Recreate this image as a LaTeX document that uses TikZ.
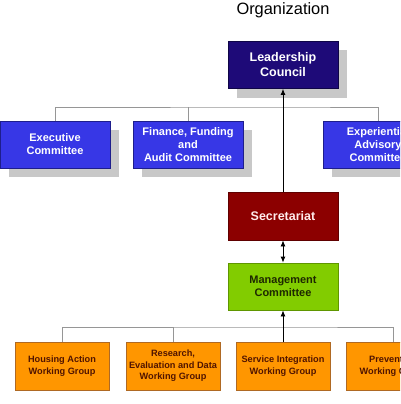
\documentclass[tikz,border=0pt]{standalone}
\usepackage{fontspec}
\setmainfont{Liberation Sans}
\usetikzlibrary{arrows.meta, positioning, shadows}
\definecolor{navyfill}{RGB}{30,10,120}
\definecolor{navyedge}{RGB}{15,5,70}
\definecolor{bluefill}{RGB}{55,55,230}
\definecolor{blueedge}{RGB}{30,30,140}
\definecolor{redfill}{RGB}{140,0,0}
\definecolor{rededge}{RGB}{95,0,0}
\definecolor{greenfill}{RGB}{130,204,0}
\definecolor{greenedge}{RGB}{95,150,0}
\definecolor{greentext}{RGB}{30,40,0}
\definecolor{orangefill}{RGB}{255,150,0}
\definecolor{orangeedge}{RGB}{175,105,35}
\definecolor{orangetext}{RGB}{80,20,0}
\definecolor{shadowgray}{RGB}{200,200,200}
\definecolor{treegray}{RGB}{150,150,150}
\tikzset{
  box/.style={rectangle, align=center, inner sep=1pt, line width=0.8pt,
    minimum width=110pt, minimum height=47pt},
  shadowed/.style={drop shadow={shadow xshift=9pt, shadow yshift=-9pt,
    fill=shadowgray, opacity=1}},
  councilblock/.style={box, shadowed, draw=navyedge, fill=navyfill, text=white,
    font=\fontsize{12.5}{15}\selectfont\bfseries},
  commblock/.style={box, shadowed, draw=blueedge, fill=bluefill, text=white,
    font=\fontsize{11}{13}\selectfont\bfseries},
  secblock/.style={box, draw=rededge, fill=redfill, text=white!92!red,
    minimum height=48pt, font=\fontsize{12.5}{15}\selectfont\bfseries},
  mgmtblock/.style={box, draw=greenedge, fill=greenfill, text=greentext,
    font=\fontsize{11}{13}\selectfont\bfseries},
  groupblock/.style={box, draw=orangeedge, fill=orangefill, text=orangetext,
    minimum width=94pt, minimum height=48pt,
    font=\fontsize{9.2}{11.5}\selectfont\bfseries},
  treeline/.style={line width=0.8pt, color=treegray},
  arrow/.style={-{Latex[length=6pt,width=5pt]}, line width=0.8pt, color=black},
  twoway/.style={{Latex[length=6pt,width=5pt]}-{Latex[length=6pt,width=5pt]}, line width=0.8pt, color=black}
}
\begin{document}
\begin{tikzpicture}[x=1pt, y=-1pt]
  \useasboundingbox (0,0) rectangle (400,404);
  \clip (0,0) rectangle (400,404);
  \fill[white] (0,0) rectangle (400,404);

  \node (title) at (283,10) {\fontsize{16.4}{18}\selectfont Organization};

  % top tier
  \node[councilblock] (council) at (283,65) {Leadership\\Council};
  \node[commblock] (exec) at (55,144.5) {Executive\\Committee};
  \node[commblock] (finance) at (188,144.5) {Finance, Funding\\and\\Audit Committee};
  \node[commblock] (advisory) at (378,144.5) {Experiential\\Advisory\\Committee};

  % middle
  \node[secblock] (secretariat) at (283,216) {Secretariat};
  \node[mgmtblock] (mgmt) at (283,286.5) {Management\\Committee};

  % working groups
  \node[groupblock] (housing) at (62,366) {Housing Action\\Working Group};
  \node[groupblock] (research) at (173,366) {Research,\\Evaluation and Data\\Working Group};
  \node[groupblock] (service) at (283,366) {Service Integration\\Working Group};
  \node[groupblock] (prevention) at (393,366) {Prevention\\Working Group};

  \coordinate (topbar) at (283,107);
  \coordinate (lowbar) at (283,327);

  \draw[treeline] (exec.north) |- (topbar) -| (advisory.north);
  \draw[treeline] (finance.north) -- (finance.north |- topbar);
  \draw[treeline] (housing.north) |- (lowbar) -| (prevention.north);
  \draw[treeline] (research.north) -- (research.north |- lowbar);

  \draw[arrow] (secretariat.north) -- (council.south);
  \draw[twoway] (secretariat.south) -- (mgmt.north);
  \draw[arrow] (service.north) -- (mgmt.south);
\end{tikzpicture}
\end{document}
